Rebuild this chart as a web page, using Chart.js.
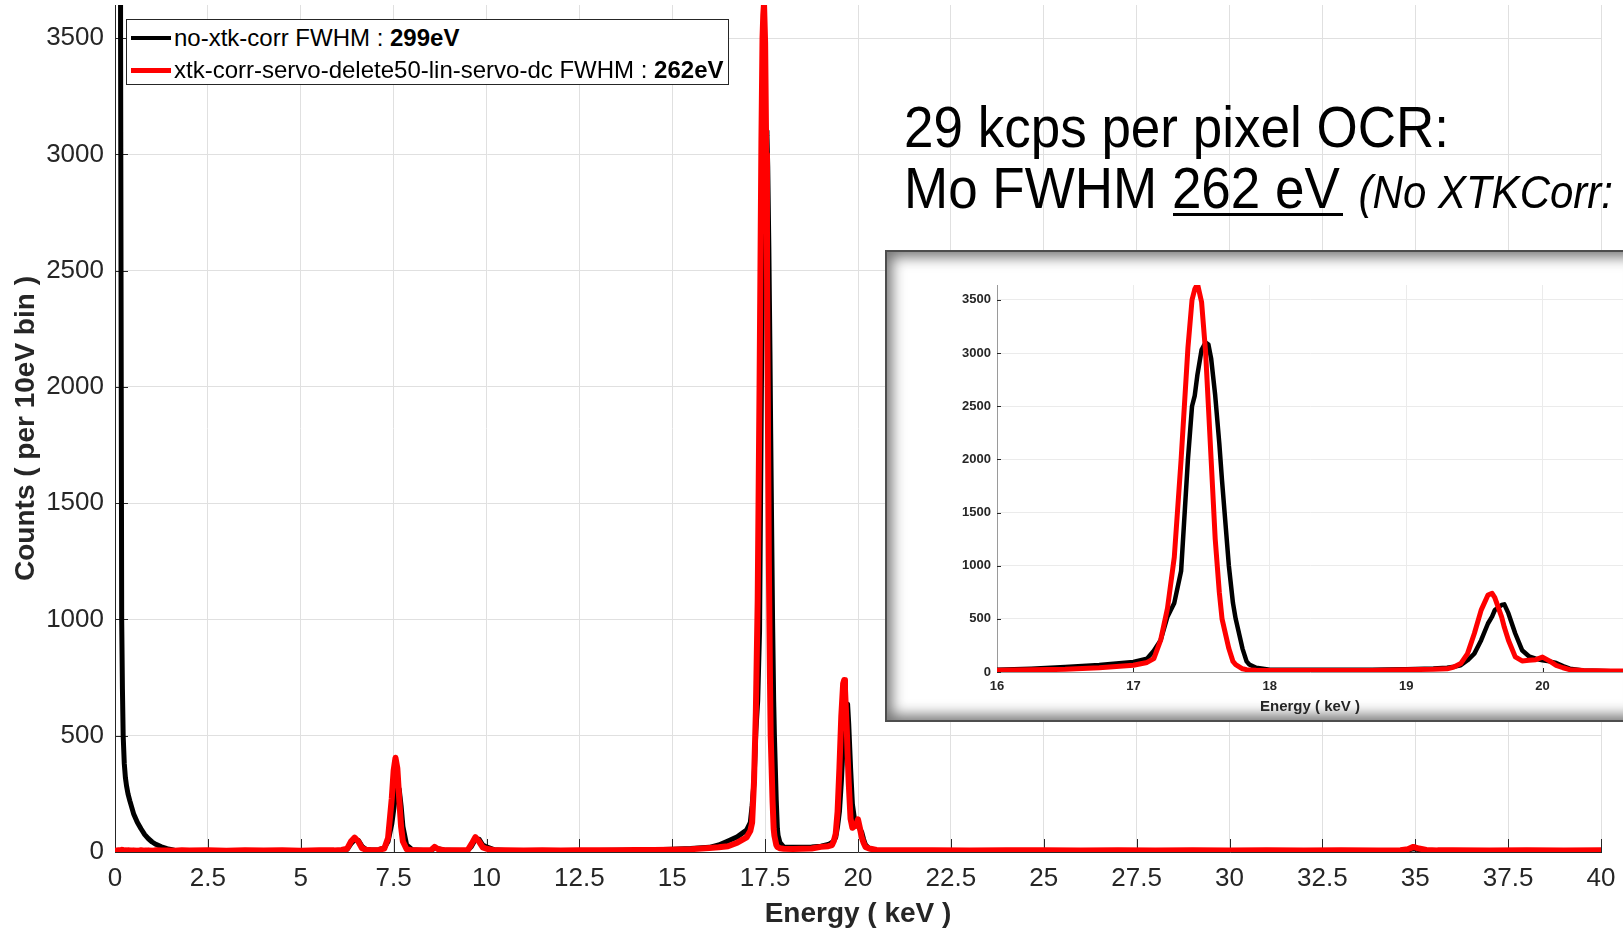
<!DOCTYPE html>
<html><head><meta charset="utf-8">
<script src="https://cdn.jsdelivr.net/npm/chart.js@4.4.1/dist/chart.umd.min.js"></script>
<style>
html,body{margin:0;padding:0;background:#fff;}
body{width:1623px;height:931px;overflow:hidden;position:relative;font-family:'Liberation Sans',Arial,Helvetica,sans-serif;}
#main{position:absolute;left:0;top:0;}
#legend{position:absolute;left:126px;top:19px;width:603px;height:66px;box-sizing:border-box;border:1px solid #262626;background:#fff;}
.row{position:absolute;left:0;height:32px;line-height:32px;font-size:24px;color:#000;white-space:nowrap;width:600px;}
.sw{position:absolute;left:4px;width:40px;}
.lt{position:absolute;left:47px;top:0;}
.ann{position:absolute;left:904px;font-size:53px;line-height:53px;white-space:nowrap;color:#000;transform:scaleY(1.09);transform-origin:0 45px;}
.it{font-style:italic;font-size:42px;margin-left:4px;}
#ul{position:absolute;left:1173px;top:213px;width:170px;height:3px;background:#000;}
#insetBox{position:absolute;left:885px;top:250px;width:760px;height:472px;box-sizing:border-box;border:2px solid #4d4d4d;background:#fff;box-shadow:inset 0 0 14px 5px rgba(0,0,0,0.55);}
#inset{position:absolute;left:887px;top:252px;}
</style></head>
<body>
<canvas id="main" width="1623" height="931"></canvas>
<div id="legend"></div>
<div class="ann" id="ann1" style="top:102px"></div>
<div class="ann" id="ann2" style="top:163px"></div>
<div id="ul"></div>
<div id="insetBox"></div>
<canvas id="inset" width="736" height="468"></canvas>
<script>
// ---------------- data ----------------
const energyKeV = [
 0.0,0.1,0.15,0.18,0.2,0.22,0.25,0.28,0.31,0.35,0.4,0.5,0.6,0.7,0.8,0.9,1.0,1.1,1.25,1.4,1.6,1.8,2.0,
 2.5,3.0,3.5,4.0,4.5,5.0,5.5,5.9,6.1,6.25,6.35,6.45,6.55,6.65,6.75,6.9,7.1,7.25,7.35,7.45,7.5,7.55,7.6,
 7.65,7.7,7.75,7.85,8.0,8.3,8.5,8.6,8.7,8.9,9.3,9.5,9.6,9.7,9.8,9.9,10.0,10.2,10.5,11.0,11.5,12.0,12.5,
 13.0,13.5,14.0,14.5,15.0,15.5,16.0,16.25,16.5,16.75,17.0,17.1,17.15,17.2,17.25,17.3,17.35,17.4,17.43,
 17.45,17.47,17.5,17.53,17.55,17.57,17.6,17.63,17.65,17.7,17.73,17.75,17.8,17.83,17.85,17.9,18.0,18.25,
 18.5,18.75,19.0,19.2,19.3,19.35,19.4,19.45,19.5,19.55,19.6,19.63,19.65,19.7,19.72,19.75,19.8,19.85,19.9,
 19.95,20.0,20.05,20.1,20.15,20.2,20.3,20.5,21,22,23,24,25,26,27,28,29,30,31,32,33,34,34.6,34.8,34.95,
 35.1,35.3,35.6,36,37,38,39,40];
const countsNoXtk = [
 50000,30000,3500,1000,700,500,380,320,285,250,220,165,128,100,75,57,43,33,22,14,8,5,4,
 3,4,3,4,3,4,5,6,8,12,35,52,50,24,12,9,10,18,45,120,180,240,285,
 270,200,110,30,10,6,6,16,14,7,6,8,25,55,55,30,22,10,6,5,5,5,6,
 6,7,8,10,12,15,20,30,47,65,94,126,200,300,520,650,950,2000,2500,
 2600,2800,3030,3100,3080,2950,2600,2150,1800,1000,650,500,220,100,70,40,22,20,
 20,22,25,32,41,50,63,110,173,299,456,520,582,630,636,551,362,205,148,
 125,110,100,85,55,31,15,8,5,4,5,4,5,4,5,4,5,4,5,4,5,5,6,8,14,
 10,6,5,4,5,4,5,4];
const countsXtkCorr = [
 5,8,6,9,5,8,6,7,5,8,6,7,5,8,6,7,5,8,6,7,5,8,6,
 7,5,8,6,7,5,8,7,9,14,45,62,45,16,10,8,9,15,60,230,350,405,360,
 230,110,45,12,7,8,8,22,12,7,8,9,35,64,45,20,14,8,7,6,8,6,7,
 8,7,9,9,10,12,17,20,25,40,63,90,126,300,600,1080,2000,3050,3500,
 3600,3650,3480,3000,2500,2000,1250,750,500,220,100,70,30,22,20,16,14,13,
 14,15,22,25,30,47,79,173,362,582,724,740,700,519,420,299,142,104,110,
 116,140,104,63,40,22,15,9,7,8,6,7,8,6,7,6,8,6,7,6,7,6,8,12,22,
 15,9,7,8,6,7,6,7];
const seriesNames = ['no-xtk-corr', 'xtk-corr-servo-delete50-lin-servo-dc'];
const seriesFwhm = ['299eV', '262eV'];
const seriesColors = ['#000000', '#ff0000'];
const xTickValues = [0,2.5,5,7.5,10,12.5,15,17.5,20,22.5,25,27.5,30,32.5,35,37.5,40];
const yTickValues = [0,500,1000,1500,2000,2500,3000,3500];
const insetXTickValues = [16,17,18,19,20];
const insetYTickValues = [0,500,1000,1500,2000,2500,3000,3500];
const annotationLine1 = '29 kcps per pixel OCR:';
const annotationLine2 = ['Mo FWHM ', '262 eV', '(No XTKCorr:'];

// ---------------- text overlays ----------------
const legend = document.getElementById('legend');
seriesNames.forEach((n, i) => {
  const row = document.createElement('div');
  row.className = 'row';
  row.style.top = (2 + i * 32) + 'px';
  const sw = document.createElement('div');
  sw.className = 'sw';
  sw.style.background = seriesColors[i];
  sw.style.height = (i === 0 ? 4 : 5) + 'px';
  sw.style.top = (i === 0 ? 14 : 13.5) + 'px';
  const t = document.createElement('div');
  t.className = 'lt';
  t.innerHTML = n + ' FWHM : <b>' + seriesFwhm[i] + '</b>';
  row.appendChild(sw); row.appendChild(t);
  legend.appendChild(row);
});
document.getElementById('ann1').textContent = annotationLine1;
document.getElementById('ann2').innerHTML = annotationLine2[0] + annotationLine2[1] + ' <span class="it">' + annotationLine2[2] + '</span>';

// ---------------- charts ----------------
const FAMILY = "'Liberation Sans', Arial, Helvetica, sans-serif";
const toPoints = arr => energyKeV.map((e, i) => ({x: e, y: arr[i]}));

const inwardTicks = {
  id: 'inwardTicks',
  beforeDatasetsDraw(chart, args, opts) {
    const {ctx, chartArea: a, scales: {x, y}} = chart;
    ctx.save();
    ctx.strokeStyle = opts.color; ctx.lineWidth = 1;
    x.ticks.forEach(t => {
      const px = Math.round(x.getPixelForValue(t.value)) + 0.5;
      ctx.beginPath(); ctx.moveTo(px, a.bottom); ctx.lineTo(px, a.bottom - opts.len); ctx.stroke();
    });
    y.ticks.forEach(t => {
      const py = Math.round(y.getPixelForValue(t.value)) + 0.5;
      ctx.beginPath(); ctx.moveTo(a.left, py); ctx.lineTo(a.left + opts.len, py); ctx.stroke();
    });
    ctx.restore();
  }
};

function makeChart(canvas, cfg) {
  return new Chart(canvas, {
    type: 'line',
    data: {datasets: [
      {label: seriesNames[0], data: toPoints(countsNoXtk), borderColor: seriesColors[0], borderWidth: cfg.bw[0],
       pointRadius: 0, tension: 0, order: 2, borderJoinStyle: 'round', borderCapStyle: 'round'},
      {label: seriesNames[1], data: toPoints(countsXtkCorr), borderColor: seriesColors[1], borderWidth: cfg.bw[1],
       pointRadius: 0, tension: 0, order: 1, borderJoinStyle: 'round', borderCapStyle: 'round'}
    ]},
    options: {
      responsive: false, animation: false, events: [],
      layout: {padding: cfg.padding},
      plugins: {legend: {display: false}, tooltip: {enabled: false}, inwardTicks: {len: cfg.tickLen, color: '#262626'}},
      scales: {
        x: {
          type: 'linear', min: cfg.xmin, max: cfg.xmax,
          afterBuildTicks: s => { s.ticks = cfg.xt.map(v => ({value: v})); },
          afterFit: s => { s.height = cfg.xh; s.paddingLeft = 0; s.paddingRight = 0; },
          grid: {color: cfg.gridColor, drawTicks: false, lineWidth: 1},
          border: {color: cfg.axisColor, width: 1},
          ticks: {padding: cfg.xpad, color: '#262626', autoSkip: false, maxRotation: 0,
                  font: {size: cfg.tickFont, family: FAMILY, weight: cfg.tickWeight}, callback: v => String(v)},
          title: {display: true, text: 'Energy ( keV )', color: '#262626',
                  font: {size: cfg.titleFont, weight: 'bold', family: FAMILY}, padding: {top: 0, bottom: cfg.xtitlePad}}
        },
        y: {
          type: 'linear', min: 0, max: cfg.ymax,
          afterBuildTicks: s => { s.ticks = cfg.yt.map(v => ({value: v})); },
          afterFit: s => { s.width = cfg.yw; s.paddingTop = 0; s.paddingBottom = 0; },
          grid: {color: cfg.gridColor, drawTicks: false, lineWidth: 1},
          border: {color: cfg.axisColor, width: 1},
          ticks: {padding: cfg.ypad, color: '#262626', autoSkip: false,
                  font: {size: cfg.tickFont, family: FAMILY, weight: cfg.tickWeight}, callback: v => String(v)},
          title: {display: cfg.ytitle !== '', text: cfg.ytitle, color: '#262626',
                  font: {size: cfg.titleFont, weight: 'bold', family: FAMILY}, padding: {top: 9, bottom: 0}}
        }
      }
    },
    plugins: [inwardTicks]
  });
}

makeChart(document.getElementById('main'), {
  bw: [5, 6], padding: {left: 0, top: 5, right: 22, bottom: 0},
  xmin: 0, xmax: 40, ymax: 3643, xt: xTickValues, yt: yTickValues,
  xh: 79, yw: 115, xpad: 11, ypad: 11, tickFont: 26, tickWeight: 'normal', titleFont: 28,
  xtitlePad: 0, ytitle: 'Counts ( per 10eV bin )', gridColor: '#e0e0e0', axisColor: '#262626', tickLen: 13
});

makeChart(document.getElementById('inset'), {
  bw: [4.5, 5], padding: {left: 0, top: 33, right: 0, bottom: 0},
  xmin: 16, xmax: 20.59, ymax: 3640, xt: insetXTickValues, yt: insetYTickValues,
  xh: 48, yw: 110, xpad: 7, ypad: 6, tickFont: 13, tickWeight: 'bold', titleFont: 15,
  xtitlePad: 4, ytitle: '', gridColor: '#ebebeb', axisColor: '#9a9a9a', tickLen: 4
});
</script>
</body></html>
